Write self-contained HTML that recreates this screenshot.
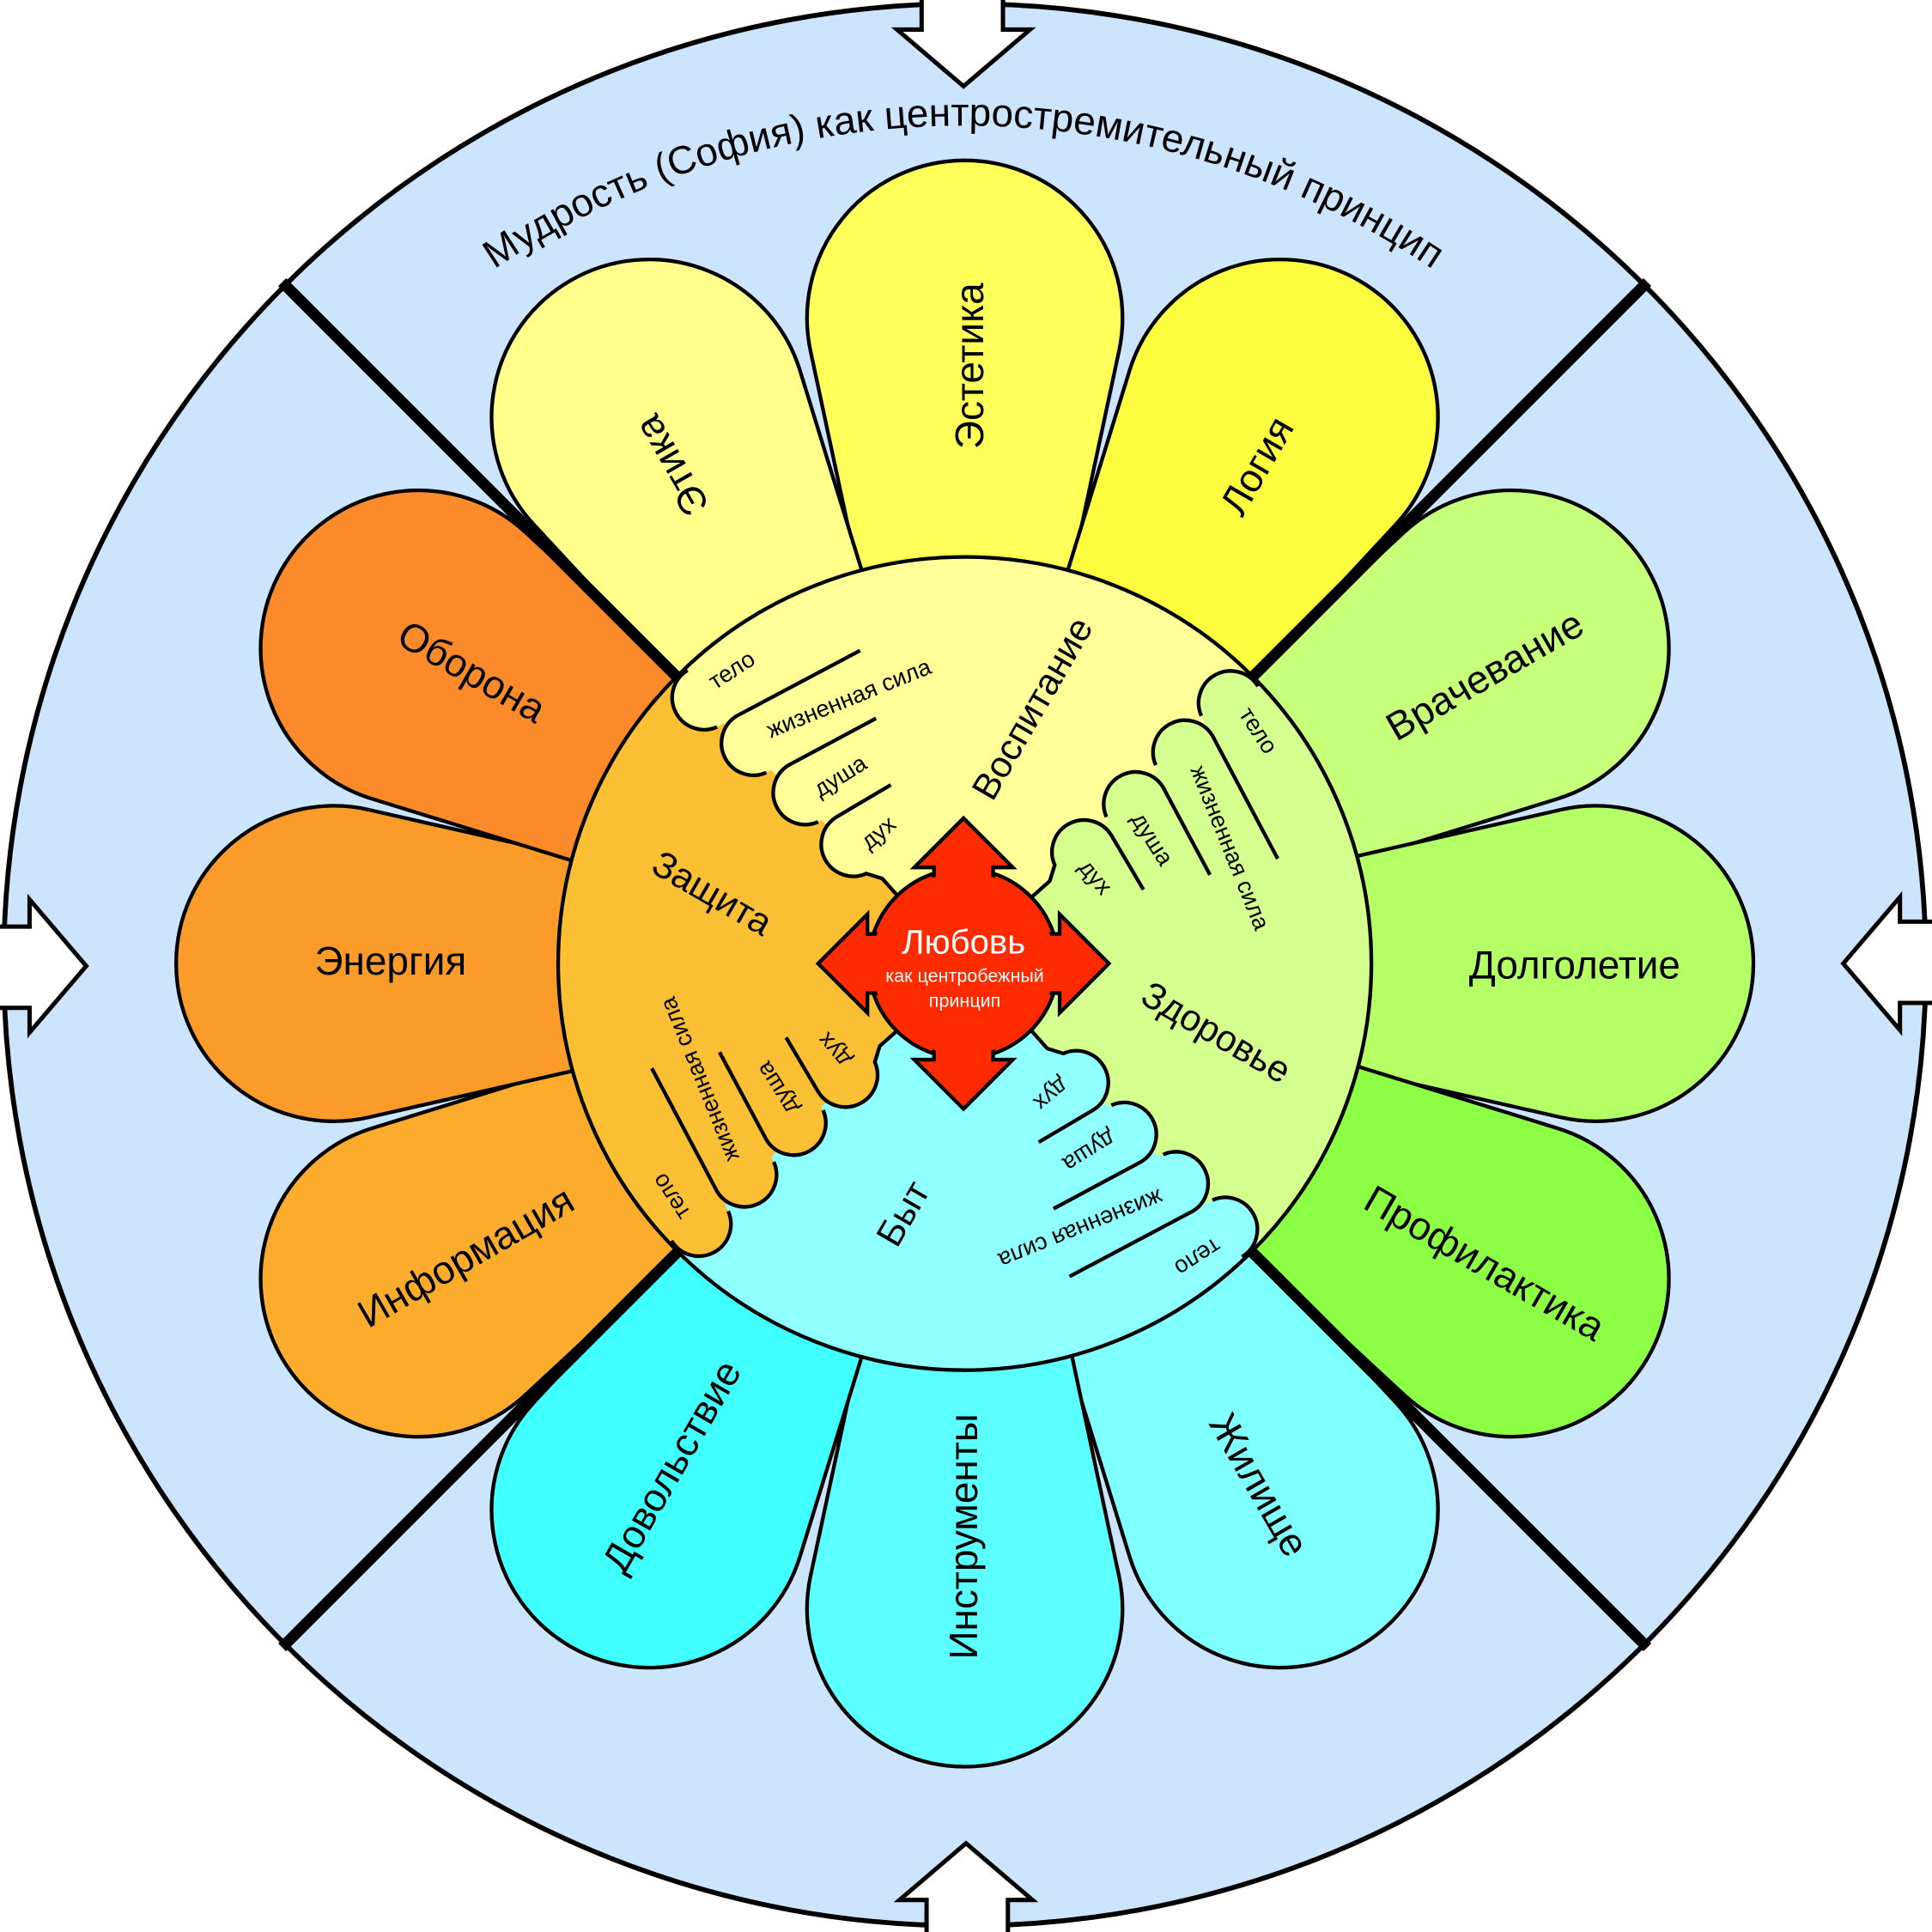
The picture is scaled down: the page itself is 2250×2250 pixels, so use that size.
<!DOCTYPE html>
<html><head><meta charset="utf-8"><style>html,body{margin:0;padding:0;background:#fff}svg{display:block}text{font-family:"Liberation Sans","DejaVu Sans",sans-serif}</style></head>
<body>
<svg width="2250" height="2250" viewBox="0 0 1568 1568" xmlns="http://www.w3.org/2000/svg">
<defs>
<path id="petal" d="M -83,-300 L -125.2,-497.2 A 128 128 0 1 1 125.2,-497.2 L 83,-300 Z"/>
<path id="petal2" d="M -83,-300 L -124.8,-483.6 A 128 128 0 1 1 124.8,-483.6 L 83,-300 Z"/>
<path id="arcT" d="M 102,782 A 680 680 0 0 1 1462,782"/>
<g id="arrowIn"><polygon points="748,-6 748,24 728,24 782,70 836,24 814,24 814,-6" fill="#fff" stroke="#000" stroke-width="3.5" stroke-linejoin="miter"/></g>
<g id="hand">
<path d="M558,544 A26 26 0 0 0 582,590 L720,520 L640,505 Z" fill="currentColor"/>
<path d="M558,544 A26 26 0 0 0 582,590" fill="none" stroke="#000" stroke-width="3"/>
<path d="M698,528 L598,581 A26 26 0 0 0 622,627 L754,556 L740,520 Z" fill="currentColor"/>
<path d="M698,528 L598,581 A26 26 0 0 0 622,627" fill="none" stroke="#000" stroke-width="3"/>
<path d="M711,583 L640,621 A26 26 0 0 0 664,667 L772,608 L760,570 Z" fill="currentColor"/>
<path d="M711,583 L640,621 A26 26 0 0 0 664,667" fill="none" stroke="#000" stroke-width="3"/>
<path d="M723,637 L679,663 A26 26 0 0 0 703,709 L716,713 L740,740 L782,700 L770,630 Z" fill="currentColor"/>
<path d="M723,637 L679,663 A26 26 0 0 0 703,709 L716,713 L740,740" fill="none" stroke="#000" stroke-width="3"/>
<g font-size="19" fill="#000" text-anchor="middle">
<text transform="translate(594 544) rotate(-33)" dy="6">тело</text>
<text transform="translate(689 567) rotate(-22)" dy="6">жизненная сила</text>
<text transform="translate(682 630) rotate(-32)" dy="6">душа</text>
<text transform="translate(713 676) rotate(-40)" dy="6">дух</text>
</g>
</g>
</defs>
<rect width="1568" height="1568" fill="#fff"/>
<circle cx="783" cy="783" r="780" fill="#cce5fc" stroke="#000" stroke-width="4"/>
<use href="#arrowIn"/>
<use href="#arrowIn" transform="rotate(180 783 783)"/>
<use href="#arrowIn" transform="rotate(90 783 783)"/>
<use href="#arrowIn" transform="rotate(-90 783 783)"/>

<text font-size="32" fill="#000"><textPath href="#arcT" startOffset="50%" text-anchor="middle">Мудрость (София) как центростремительный принцип</textPath></text>

<g stroke="#000" stroke-width="3">
<use href="#petal" fill="#ffff5a" transform="translate(783 782) rotate(0)"/>
<use href="#petal2" fill="#ffff8c" transform="translate(783 782) rotate(-30)"/>
<use href="#petal2" fill="#fdfd40" transform="translate(783 782) rotate(30)"/>
<use href="#petal2" fill="#c6ff7a" transform="translate(783 782) rotate(60)"/>
<use href="#petal2" fill="#b4ff66" transform="translate(783 782) rotate(90)"/>
<use href="#petal2" fill="#8cff44" transform="translate(783 782) rotate(120)"/>
<use href="#petal2" fill="#80ffff" transform="translate(783 782) rotate(150)"/>
<use href="#petal" fill="#5cffff" transform="translate(783 782) rotate(180)"/>
<use href="#petal2" fill="#40ffff" transform="translate(783 782) rotate(210)"/>
<use href="#petal2" fill="#fcac2c" transform="translate(783 782) rotate(240)"/>
<use href="#petal2" fill="#fb9c2a" transform="translate(783 782) rotate(270)"/>
<use href="#petal2" fill="#fb8a2a" transform="translate(783 782) rotate(300)"/>
</g>

<g stroke="#000" stroke-width="9">
<line x1="229" y1="229" x2="552" y2="552"/>
<line x1="1337" y1="229" x2="1014" y2="552"/>
<line x1="229" y1="1337" x2="552" y2="1014"/>
<line x1="1337" y1="1337" x2="1014" y2="1014"/>
</g>

<g font-size="32" text-anchor="middle" fill="#000">
<text transform="translate(787 297) rotate(-90)" dy="11">Эстетика</text>
<text transform="translate(545 378) rotate(-120)" dy="11">Этика</text>
<text transform="translate(1020 378) rotate(-60)" dy="11">Логия</text>
<text transform="translate(1205 548) rotate(-30)" dy="11">Врачевание</text>
<text transform="translate(1278 783) rotate(0)" dy="11">Долголетие</text>
<text transform="translate(1205 1025) rotate(30)" dy="11">Профилактика</text>
<text transform="translate(1022 1205) rotate(60)" dy="11">Жилище</text>
<text transform="translate(782 1247) rotate(-90)" dy="11">Инструменты</text>
<text transform="translate(545 1190) rotate(-60)" dy="11">Довольствие</text>
<text transform="translate(378 1020) rotate(-30)" dy="11">Информация</text>
<text transform="translate(317 780) rotate(0)" dy="11">Энергия</text>
<text transform="translate(383 545) rotate(30)" dy="11">Оборона</text>
</g>

<path d="M783,782 L549,548 A330 330 0 0 1 1017,548 Z" fill="#ffff99"/>
<path d="M783,782 L1017,548 A330 330 0 0 1 1017,1016 Z" fill="#d4ff8f"/>
<path d="M783,782 L1017,1016 A330 330 0 0 1 549,1016 Z" fill="#8fffff"/>
<path d="M783,782 L549,1016 A330 330 0 0 1 549,548 Z" fill="#fbbf33"/>

<g style="color:#ffff99"><use href="#hand"/></g>
<g style="color:#d4ff8f" transform="rotate(90 783 782)"><use href="#hand"/></g>
<g style="color:#8fffff" transform="rotate(180 783 782)"><use href="#hand"/></g>
<g style="color:#fbbf33" transform="rotate(270 783 782)"><use href="#hand"/></g>

<circle cx="783" cy="782" r="330" fill="none" stroke="#000" stroke-width="3"/>

<circle cx="782" cy="782" r="77" fill="#ff2a00" stroke="#000" stroke-width="3"/>
<g fill="#ff2a00" stroke="#000" stroke-width="3" stroke-linejoin="miter">
<polygon id="ar" points="782,664 822,704 806,704 806,716 758,716 758,704 742,704"/>
<use href="#ar" transform="rotate(90 782 782)"/>
<use href="#ar" transform="rotate(180 782 782)"/>
<use href="#ar" transform="rotate(270 782 782)"/>
</g>
<circle cx="782" cy="782" r="74" fill="#ff2a00"/>
<g fill="#fff" text-anchor="middle">
<text x="782" y="774" font-size="28">Любовь</text>
<text x="783" y="797" font-size="15">как центробежный</text>
<text x="783" y="817" font-size="15">принцип</text>
</g>

<g font-size="30" text-anchor="middle" fill="#000">
<text transform="translate(838 575) rotate(-60)" dy="10">Воспитание</text>
<text transform="translate(987 838) rotate(30)" dy="10">Здоровье</text>
<text transform="translate(733 985) rotate(-60)" dy="10">Быт</text>
<text transform="translate(578 725) rotate(30)" dy="10">Защита</text>
</g>
</svg>
</body></html>
